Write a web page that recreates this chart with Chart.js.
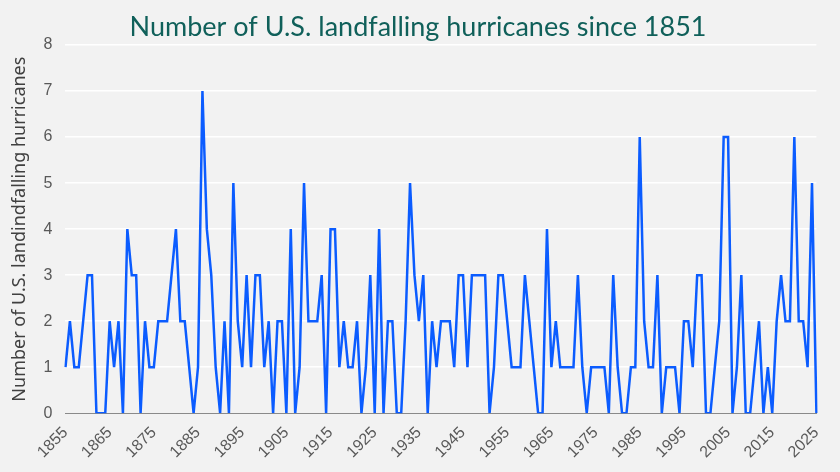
<!DOCTYPE html>
<html>
<head>
<meta charset="utf-8">
<script src="https://cdn.jsdelivr.net/npm/chart.js@4"></script>
<style>
  html, body { margin: 0; padding: 0; background: #f2f2f2; }
  #wrap { width: 840px; height: 472px; }
</style>
</head>
<body>
<div id="wrap"><canvas id="hurricaneChart" width="840" height="472"></canvas></div>
<script>
// years on the x axis
var years = [];
for (var y = 1855; y <= 2025; y++) { years.push(y); }

// landfalling hurricanes per year, 1855-2025
var counts = [
    1, 2, 1, 1, 2, 3, 3, 0, 0, 0,      // 1855-1864
    2, 1, 2, 0, 4, 3, 3, 0, 2, 1,      // 1865-1874
    1, 2, 2, 2, 3, 4, 2, 2, 1, 0,      // 1875-1884
    1, 7, 4, 3, 1, 0, 2, 0, 5, 2,      // 1885-1894
    1, 3, 1, 3, 3, 1, 2, 0, 2, 2,      // 1895-1904
    0, 4, 0, 1, 5, 2, 2, 2, 3, 0,      // 1905-1914
    4, 4, 1, 2, 1, 1, 2, 0, 1, 3,      // 1915-1924
    0, 4, 0, 2, 2, 0, 0, 2, 5, 3,      // 1925-1934
    2, 3, 0, 2, 1, 2, 2, 2, 1, 3,      // 1935-1944
    3, 1, 3, 3, 3, 3, 0, 1, 3, 3,      // 1945-1954
    2, 1, 1, 1, 3, 2, 1, 0, 0, 4,      // 1955-1964
    1, 2, 1, 1, 1, 1, 3, 1, 0, 1,      // 1965-1974
    1, 1, 1, 0, 3, 1, 0, 0, 1, 1,      // 1975-1984
    6, 2, 1, 1, 3, 0, 1, 1, 1, 0,      // 1985-1994
    2, 2, 1, 3, 3, 0, 0, 1, 2, 6,      // 1995-2004
    6, 0, 1, 3, 0, 0, 1, 2, 0, 1,      // 2005-2014
    0, 2, 3, 2, 2, 6, 2, 2, 1, 5,      // 2015-2024
    0                                  // 2025
];

var yTicks = [0, 1, 2, 3, 4, 5, 6, 7, 8];
var chartTitle = 'Number of U.S. landfalling hurricanes since 1851';
var yAxisTitle = 'Number of U.S. landindfalling hurricanes';

var bgPlugin = {
    id: 'bgFill',
    beforeDraw: function(chart) {
        var ctx = chart.ctx;
        ctx.save();
        ctx.fillStyle = '#f2f2f2';
        ctx.fillRect(0, 0, chart.width, chart.height);
        ctx.restore();
    }
};

// title drawn by hand so it can sit slightly right of the canvas centre like the original
var titlePlugin = {
    id: 'topTitle',
    afterDraw: function(chart) {
        var ctx = chart.ctx;
        ctx.save();
        ctx.font = '27px Lato';
        ctx.fillStyle = '#10605a';
        ctx.textAlign = 'center';
        ctx.textBaseline = 'middle';
        ctx.fillText(chartTitle, 418, 27);
        ctx.restore();
    }
};

var ctx = document.getElementById('hurricaneChart').getContext('2d');
var hurricaneChart = new Chart(ctx, {
    type: 'line',
    data: {
        labels: years,
        datasets: [{
            label: 'Landfalling hurricanes',
            data: counts,
            borderColor: '#0b5cff',
            borderWidth: 2.5,
            pointRadius: 0,
            tension: 0,
            fill: false
        }]
    },
    options: {
        responsive: false,
        animation: false,
        layout: { padding: { left: 6, right: 20, top: 45, bottom: 0 } },
        plugins: {
            legend: { display: false },
            tooltip: { enabled: false },
            title: { display: false }
        },
        scales: {
            x: {
                grid: { display: false, drawTicks: false },
                border: { display: true, color: '#8a8a8a', width: 1 },
                ticks: {
                    autoSkip: false,
                    maxRotation: 45,
                    minRotation: 45,
                    padding: 10,
                    color: '#595959',
                    font: { family: 'Liberation Sans', size: 16 },
                    callback: function(val, idx) {
                        var yr = years[idx];
                        return (yr - 1855) % 10 === 0 ? String(yr) : '';
                    }
                }
            },
            y: {
                min: 0,
                max: 8,
                afterBuildTicks: function(axis) {
                    axis.ticks = yTicks.map(function(v) { return { value: v }; });
                },
                border: { display: false },
                grid: {
                    drawTicks: false,
                    lineWidth: 1.5,
                    color: function(c) { return c.tick && c.tick.value === 0 ? 'rgba(0,0,0,0)' : '#ffffff'; }
                },
                ticks: {
                    color: '#595959',
                    padding: 13,
                    font: { family: 'Liberation Sans', size: 16 }
                },
                title: {
                    display: true,
                    text: yAxisTitle,
                    color: '#404040',
                    font: { family: 'Noto Sans', size: 18 },
                    padding: { top: 3, bottom: 0 }
                }
            }
        }
    },
    plugins: [bgPlugin, titlePlugin]
});
</script>
</body>
</html>
